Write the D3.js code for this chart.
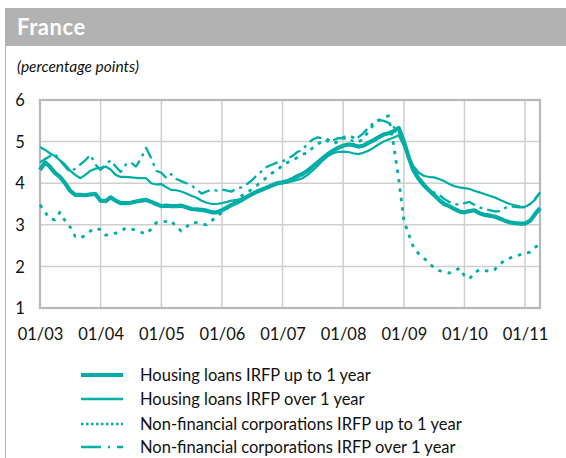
<!DOCTYPE html>
<html>
<head>
<meta charset="utf-8">
<script src="https://cdn.jsdelivr.net/npm/d3@7"></script>
<style>
  html, body { margin: 0; padding: 0; background: #fff; }
  svg { display: block; }
  text { font-family: Lato, "Open Sans", sans-serif; fill: #111; }
</style>
</head>
<body>
<svg id="chart" width="566" height="458"></svg>
<script>
// Monthly observations, January 2003 to April 2011
const startMonth = new Date(2003, 0, 1);

const housingUpTo1y = [
  4.32, 4.50, 4.40, 4.25, 4.15, 4.00, 3.82, 3.72, 3.72, 3.71, 3.73, 3.74,
  3.58, 3.57, 3.66, 3.58, 3.52, 3.52, 3.53, 3.56, 3.58, 3.60, 3.55, 3.50,
  3.45, 3.46, 3.45, 3.45, 3.46, 3.42, 3.38, 3.37, 3.36, 3.34, 3.30, 3.30,
  3.35, 3.42, 3.48, 3.53, 3.60, 3.67, 3.74, 3.80, 3.85, 3.90, 3.95, 4.00,
  4.02, 4.05, 4.10, 4.17, 4.22, 4.30, 4.40, 4.50, 4.60, 4.70, 4.78, 4.85,
  4.90, 4.93, 4.92, 4.88, 4.90, 4.97, 5.03, 5.10, 5.17, 5.20, 5.25, 5.33,
  5.00, 4.60, 4.30, 4.10, 3.95, 3.83, 3.72, 3.60, 3.50, 3.45, 3.38, 3.32,
  3.30, 3.33, 3.35, 3.28, 3.24, 3.22, 3.20, 3.15, 3.10, 3.06, 3.04, 3.03,
  3.03, 3.10, 3.25, 3.40
];

const housingOver1y = [
  4.87, 4.80, 4.72, 4.65, 4.55, 4.45, 4.30, 4.20, 4.12, 4.20, 4.30, 4.35,
  4.37, 4.40, 4.33, 4.20, 4.15, 4.15, 4.14, 4.13, 4.12, 4.12, 4.00, 3.97,
  3.98, 3.90, 3.84, 3.83, 3.80, 3.75, 3.70, 3.65, 3.58, 3.53, 3.50, 3.50,
  3.52, 3.55, 3.58, 3.60, 3.63, 3.67, 3.72, 3.78, 3.85, 3.90, 3.95, 3.98,
  4.00, 4.02, 4.05, 4.08, 4.12, 4.20, 4.30, 4.42, 4.55, 4.65, 4.72, 4.75,
  4.76, 4.75, 4.72, 4.70, 4.73, 4.78, 4.85, 4.93, 5.00, 5.05, 5.10, 5.15,
  4.90, 4.60, 4.40, 4.25, 4.18, 4.15, 4.14, 4.10, 4.05, 3.98, 3.93, 3.90,
  3.88, 3.86, 3.82, 3.78, 3.74, 3.70, 3.66, 3.60, 3.55, 3.50, 3.47, 3.44,
  3.43, 3.50, 3.60, 3.78
];

const nfcUpTo1y = [
  3.48, 3.30, 3.15, 3.12, 3.30, 3.10, 2.95, 2.72, 2.68, 2.75, 2.85, 2.92,
  2.88, 2.75, 2.78, 2.80, 2.85, 2.92, 2.90, 2.87, 2.82, 2.78, 2.90, 3.05,
  3.07, 3.08, 3.10, 2.95, 2.85, 2.95, 3.05, 3.05, 3.02, 3.00, 3.10, 3.20,
  3.30, 3.40, 3.50, 3.60, 3.70, 3.78, 3.85, 3.95, 4.05, 4.15, 4.25, 4.30,
  4.45, 4.50, 4.55, 4.62, 4.70, 4.72, 4.85, 4.95, 5.00, 5.05, 4.95, 5.00,
  5.10, 5.15, 5.10, 5.00, 5.05, 5.25, 5.40, 5.50, 5.58, 5.62, 4.90, 4.10,
  3.10, 2.75, 2.45, 2.30, 2.20, 2.08, 1.97, 1.90, 1.87, 1.84, 1.88, 1.96,
  1.78, 1.70, 1.85, 1.92, 1.90, 1.88, 1.92, 2.05, 2.15, 2.20, 2.24, 2.28,
  2.30, 2.35, 2.45, 2.55
];

const nfcOver1y = [
  4.50, 4.58, 4.65, 4.70, 4.55, 4.40, 4.27, 4.35, 4.45, 4.55, 4.68, 4.45,
  4.32, 4.45, 4.55, 4.40, 4.27, 4.45, 4.50, 4.40, 4.60, 4.85, 4.60, 4.30,
  4.25, 4.12, 4.22, 4.10, 4.05, 4.00, 3.95, 3.85, 3.75, 3.80, 3.85, 3.82,
  3.85, 3.82, 3.80, 3.88, 3.90, 3.98, 4.07, 4.20, 4.30, 4.40, 4.45, 4.50,
  4.52, 4.60, 4.65, 4.75, 4.80, 4.95, 5.05, 5.10, 5.08, 5.00, 5.03, 5.08,
  5.08, 5.05, 5.02, 5.10, 5.20, 5.33, 5.45, 5.52, 5.50, 5.45, 5.35, 5.25,
  4.95, 4.60, 4.35, 4.15, 4.00, 3.85, 3.78, 3.72, 3.62, 3.55, 3.50, 3.48,
  3.52, 3.55, 3.48, 3.42, 3.38, 3.35, 3.32, 3.33, 3.40, 3.45, 3.43, 3.42,
  3.42, 3.50, 3.62, 3.77
];

const yTicks = [1, 2, 3, 4, 5, 6];
const xTickYears = [2003, 2004, 2005, 2006, 2007, 2008, 2009, 2010, 2011];
const xTickLabels = ["01/03", "01/04", "01/05", "01/06", "01/07", "01/08", "01/09", "01/10", "01/11"];

const seriesNames = [
  "Housing loans IRFP up to 1 year",
  "Housing loans IRFP over 1 year",
  "Non-financial corporations IRFP up to 1 year",
  "Non-financial corporations IRFP over 1 year"
];

const teal = "#00aea6";
const months = housingUpTo1y.map((_, i) => d3.timeMonth.offset(startMonth, i));

const series = [
  { name: seriesNames[0], values: housingUpTo1y, width: 4.2, dash: null, legendDash: null },
  { name: seriesNames[1], values: housingOver1y, width: 2.2, dash: null, legendDash: null },
  { name: seriesNames[2], values: nfcUpTo1y, width: 2.8, dash: "3.5,6", legendDash: "2.5,2.5" },
  { name: seriesNames[3], values: nfcOver1y, width: 2.3, dash: "13,5,3,5", legendDash: "20,7,2,7" }
];

const svg = d3.select("#chart");
const W = 566;

// Title band and frame
svg.append("rect").attr("x", 5).attr("y", 8).attr("width", W - 5).attr("height", 38).attr("fill", "#b2b2b2");
svg.append("line").attr("x1", 5.5).attr("x2", 5.5).attr("y1", 46).attr("y2", 458)
  .attr("stroke", "#b2b2b2").attr("stroke-width", 1);
svg.append("text").attr("x", 17).attr("y", 35)
  .style("fill", "#fff").style("font-weight", "bold").style("font-size", "22px")
  .style("letter-spacing", "0.6px").text("France");
svg.append("text").attr("x", 17).attr("y", 72)
  .style("font-style", "italic").style("font-size", "15.5px").text("(percentage points)");

// Plot area
const plot = { left: 40, right: 540, top: 100, bottom: 308 };

const x = d3.scaleTime()
  .domain([startMonth, months[months.length - 1]])
  .range([plot.left, plot.right]);
const y = d3.scaleLinear().domain([1, 6]).range([plot.bottom, plot.top]);

const g = svg.append("g");

// Grid
g.selectAll(".hgrid").data(yTicks).join("line")
  .attr("x1", plot.left).attr("x2", plot.right)
  .attr("y1", d => y(d)).attr("y2", d => y(d))
  .attr("stroke", "#cfcfcf").attr("stroke-width", 1.5);
g.selectAll(".vgrid").data(xTickYears).join("line")
  .attr("x1", d => x(new Date(d, 0, 1))).attr("x2", d => x(new Date(d, 0, 1)))
  .attr("y1", plot.top).attr("y2", plot.bottom)
  .attr("stroke", "#cfcfcf").attr("stroke-width", 1.5);

// Border
g.append("rect")
  .attr("x", plot.left).attr("y", plot.top)
  .attr("width", plot.right - plot.left).attr("height", plot.bottom - plot.top)
  .attr("fill", "none").attr("stroke", "#b8b8b8").attr("stroke-width", 2.2);

// Axes (labels only)
const yAxis = d3.axisLeft(y).tickValues(yTicks).tickSize(0).tickPadding(0).tickFormat(d3.format("d"));
const yAx = svg.append("g").attr("transform", "translate(20,0)").call(yAxis);
yAx.select(".domain").remove();
yAx.selectAll("text").attr("text-anchor", "middle").attr("dy", "0.35em")
  .style("font-size", "16.5px").style("font-family", "Lato, sans-serif").style("fill", "#111");

const xAxis = d3.axisBottom(x)
  .tickValues(xTickYears.map(yr => new Date(yr, 0, 1)))
  .tickSize(0).tickPadding(0)
  .tickFormat((d, i) => xTickLabels[i]);
const xAx = svg.append("g").attr("transform", "translate(0,328)").call(xAxis);
xAx.select(".domain").remove();
xAx.selectAll("text").attr("dy", "0.71em")
  .style("font-size", "16.5px").style("font-family", "Lato, sans-serif").style("fill", "#111");

// Lines
const line = d3.line()
  .x((d, i) => x(months[i]))
  .y(d => y(d));

// Draw order: NFC series underneath, housing on top
[2, 3, 1, 0].forEach(k => {
  const s = series[k];
  g.append("path")
    .datum(s.values)
    .attr("d", line)
    .attr("fill", "none")
    .attr("stroke", teal)
    .attr("stroke-width", s.width)
    .attr("stroke-linejoin", "round")
    .attr("stroke-dasharray", s.dash);
});

// Legend
const legendRows = [375, 399, 424, 447];
const leg = svg.append("g");
series.forEach((s, i) => {
  leg.append("line")
    .attr("x1", 81).attr("x2", 123)
    .attr("y1", legendRows[i]).attr("y2", legendRows[i])
    .attr("stroke", teal)
    .attr("stroke-width", i === 0 ? 4 : 2.5)
    .attr("stroke-dasharray", s.legendDash);
  leg.append("text")
    .attr("x", 140).attr("y", legendRows[i]).attr("dy", "0.35em")
    .style("font-size", "16.5px")
    .text(s.name);
});
</script>
</body>
</html>
